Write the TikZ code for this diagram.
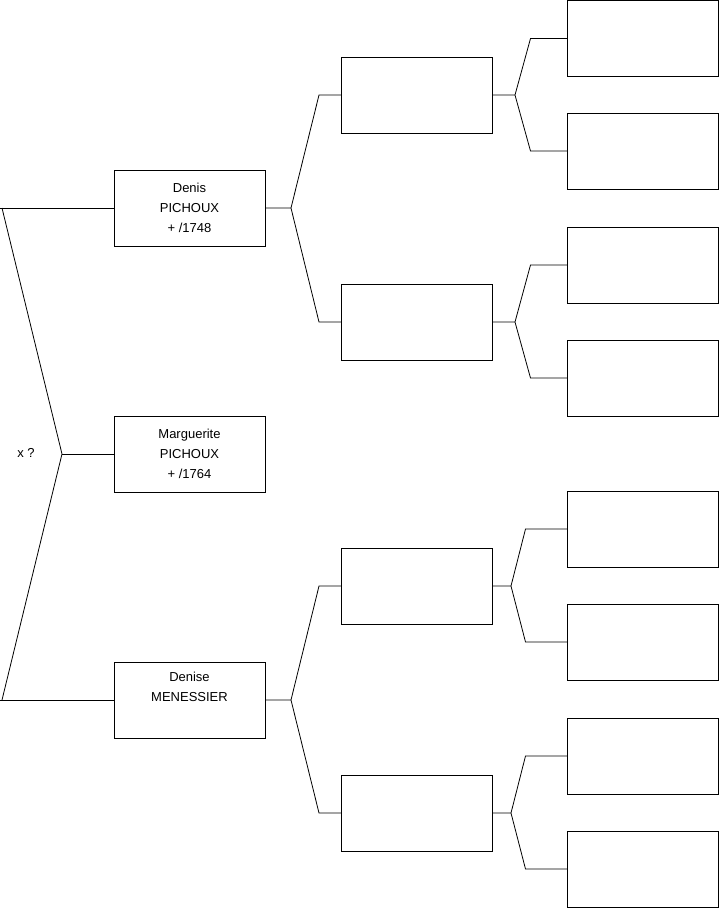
\documentclass[tikz,border=0pt]{standalone}
\usepackage{fontspec}
\setmainfont{Liberation Sans}
\usetikzlibrary{positioning}

\begin{document}
\begin{tikzpicture}[x=1pt, y=-1pt, line width=0.8pt,
  every node/.style={inner sep=0pt, outer sep=0pt, font=\fontsize{13}{20}\selectfont},
  box/.style={draw, minimum width=151pt, minimum height=76pt, align=center}]
\useasboundingbox (0,0) rectangle (719,908);
% ---- generation 1: the person and parents
\node[box] (denis) at (189.5,208) {Denis\\PICHOUX\\+ /1748};
\node[box, below=170pt of denis] (marg) {Marguerite\\PICHOUX\\+ /1764};
\node[box, below=170pt of marg] (denise) {Denise\\MENESSIER\\\strut};
\node (xq) at (26,453) {x ?};
% ---- generation 2
\node[box] (pa) at (416.5,95) {};
\node[box] (pb) at (416.5,322) {};
\node[box] (pc) at (416.5,586) {};
\node[box] (pd) at (416.5,813) {};
% ---- generation 3
\foreach \n/\y in {1/38.5, 2/151, 3/265, 4/378, 5/529, 6/642, 7/756, 8/869}
  \node[box] (q\n) at (643,\y) {};
% ---- left bracket
\draw (denis.west) -- ++(-114,0);
\draw (denise.west) -- ++(-114,0);
\coordinate (fk) at ([xshift=-52pt]marg.west);
\draw ([xshift=-112pt]denis.west) -- (fk) -- ([xshift=-112pt]denise.west);
\draw (fk) -- (marg.west);
% ---- forks to generation 2
\foreach \s/\u/\l in {denis/pa/pb, denise/pc/pd}
  \draw (\s.east) -- ++(26,0) coordinate (j) -- ([xshift=-22pt]\u.west) -- (\u.west)
        (j) -- ([xshift=-22pt]\l.west) -- (\l.west);
% ---- forks to generation 3
\foreach \p/\u/\l/\a/\b in {pa/q1/q2/23/37pt, pb/q3/q4/23/37pt, pc/q5/q6/19/42pt, pd/q7/q8/19/42pt}
  \draw (\p.east) -- ++(\a,0) coordinate (j) -- ([xshift=-\b]\u.west) -- (\u.west)
        (j) -- ([xshift=-\b]\l.west) -- (\l.west);
\end{tikzpicture}
\end{document}
